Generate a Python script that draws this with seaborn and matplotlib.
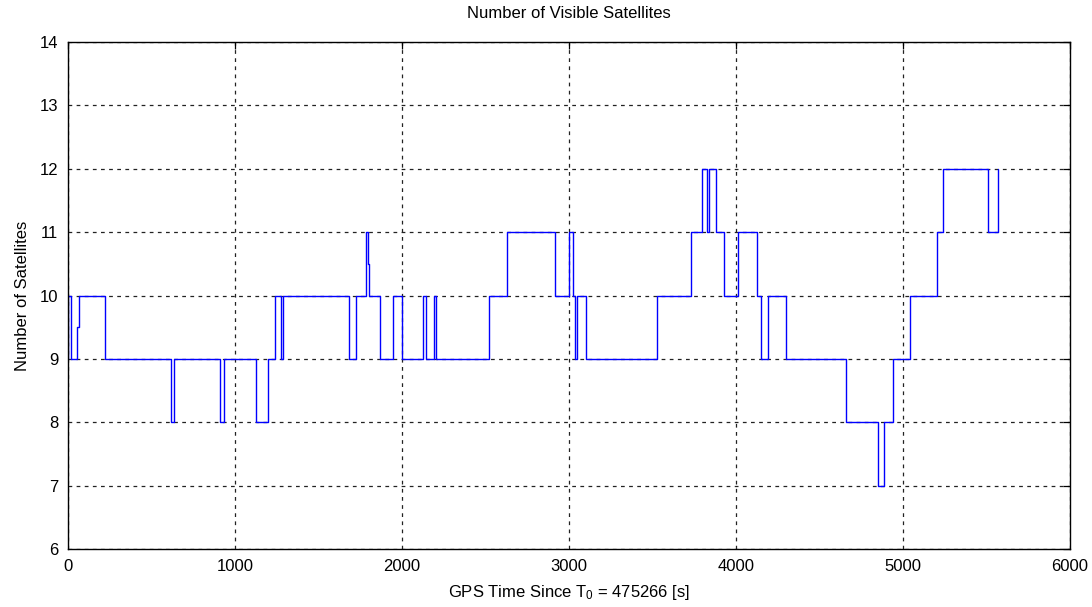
import numpy as np
import pandas as pd
import matplotlib
matplotlib.use("Agg")
import matplotlib.pyplot as plt
import seaborn as sns

# Data: change times (s) and number of satellites after each change
times = [0, 2, 20, 56, 66, 220, 617, 637, 910, 934, 1124, 1200,
         1240, 1275, 1287, 1681, 1725, 1786, 1795, 1800, 1868, 1944, 1998,
         2124, 2146, 2192, 2202, 2523, 2627, 2914, 3002, 3026, 3036, 3046, 3102,
         3525, 3731, 3799, 3824, 3840, 3878, 3930, 4014, 4124, 4150, 4190, 4301,
         4657, 4852, 4886, 4942, 5042, 5205, 5237, 5507, 5571]
n_sats = [9, 10, 9, 9.5, 10, 9, 8, 9, 8, 9, 8, 9,
          10, 9, 10, 9, 10, 11, 10.5, 10, 9, 10, 9,
          10, 9, 10, 9, 10, 11, 10, 11, 10, 9, 10, 9,
          10, 11, 12, 11, 12, 11, 10, 11, 10, 9, 10, 9,
          8, 7, 8, 9, 10, 11, 12, 11, 12]
x_ticks = [0, 1000, 2000, 3000, 4000, 5000, 6000]
y_ticks = [6, 7, 8, 9, 10, 11, 12, 13, 14]

sns.set_style("white")
plt.rcParams['font.family'] = ['Liberation Sans', 'DejaVu Sans']
plt.rcParams['mathtext.fontset'] = 'custom'
plt.rcParams['mathtext.rm'] = 'Liberation Sans'
plt.rcParams['mathtext.it'] = 'Liberation Sans'
plt.rcParams['text.color'] = 'black'
plt.rcParams['axes.labelcolor'] = 'black'

df = pd.DataFrame({"t": times, "n": n_sats})

fig = plt.figure(figsize=(10.92, 6.07), dpi=100)
ax = fig.add_axes([68/1092, 1 - 549/607, (1070-68)/1092, (549-42)/607])

sns.lineplot(data=df, x="t", y="n", ax=ax, drawstyle="steps-post",
             estimator=None, sort=False, color="#0000ff", linewidth=1.0)

ax.set_xlim(0, 6000)
ax.set_ylim(6, 14)
ax.set_xticks(x_ticks)
ax.set_yticks(y_ticks)
ax.grid(True, color="#222222", linestyle=(0, (3, 3.5)), linewidth=0.9)
ax.set_axisbelow(True)
for s in ax.spines.values():
    s.set_visible(True)
    s.set_color("black")
    s.set_linewidth(1.0)
ax.tick_params(direction="in", top=True, right=True, length=5, width=0.9,
               labelsize=12, colors="black")
ax.tick_params(axis="x", pad=7)
ax.tick_params(axis="y", pad=7)

ax.set_title("Number of Visible Satellites", fontsize=12, pad=17, color="black")
ax.set_xlabel(r"GPS Time Since T$_0$ = 475266 [s]", fontsize=12, labelpad=7)
ax.set_ylabel("Number of Satellites", fontsize=12, labelpad=7)

fig.savefig("out.png", dpi=100, facecolor="white")
